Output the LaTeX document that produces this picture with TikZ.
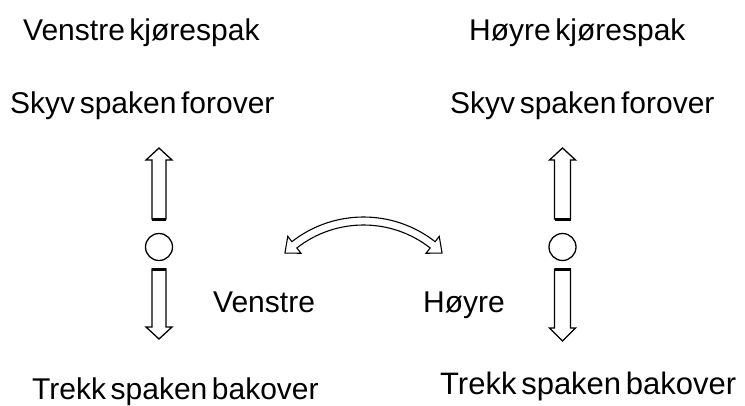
\documentclass[tikz,border=0pt]{standalone}
\usepackage{fontspec}
\setmainfont{Liberation Sans}[WordSpace=0.55]
\begin{document}
\begin{tikzpicture}[x=1pt,y=-1pt,
  lbl/.style={inner sep=0pt,anchor=base west,font=\fontsize{30}{36}\selectfont},
  blk/.style={draw=black,fill=white,line width=1.3pt,line join=miter},
  basebar/.style={line width=3pt}]
\useasboundingbox (0,0) rectangle (745,405);

% texts
\node[lbl] (tl) at (23,40) {Venstre kjørespak};
\node[lbl] (tr) at (469,40) {Høyre kjørespak};
\node[lbl] (fl) at (10,113) {Skyv spaken forover};
\node[lbl] (fr) at (450,113) {Skyv spaken forover};
\node[lbl] (ml) at (213,312) {Venstre};
\node[lbl] (mr) at (423,312) {Høyre};
\node[lbl] (bl) at (32,399) {Trekk spaken bakover};
\node[lbl,font=\fontsize{31}{36}\selectfont] (br) at (440,394) {Trekk spaken bakover};

% left lever
\def\cx{159}
\draw[blk] (\cx,148) -- (\cx+13,160) -- (\cx+7,160) -- (\cx+7,219) -- (\cx-7,219) -- (\cx-7,160) -- (\cx-13,160) -- cycle;
\draw[basebar] (\cx-7,219) -- (\cx+7,219);
\node[circle,draw,line width=1.3pt,minimum size=27pt,inner sep=0pt] (cl) at (\cx,247) {};
\draw[blk] (\cx,339) -- (\cx+13,327) -- (\cx+7,327) -- (\cx+7,269) -- (\cx-7,269) -- (\cx-7,327) -- (\cx-13,327) -- cycle;
\draw[basebar] (\cx-7,269) -- (\cx+7,269);

% right lever
\def\cx{562.5}
\draw[blk] (\cx,148) -- (\cx+13,160) -- (\cx+8,160) -- (\cx+8,219) -- (\cx-8,219) -- (\cx-8,160) -- (\cx-13,160) -- cycle;
\draw[basebar] (\cx-8,219) -- (\cx+8,219);
\node[circle,draw,line width=1.3pt,minimum size=27pt,inner sep=0pt] (cr) at (\cx,247) {};
\draw[blk] (\cx,341) -- (\cx+13,328) -- (\cx+8,328) -- (\cx+8,269) -- (\cx-8,269) -- (\cx-8,328) -- (\cx-13,328) -- cycle;
\draw[basebar] (\cx-8,269) -- (\cx+8,269);

% curved double-headed hollow arrow
\begin{scope}[shift={(363.5,333.3)}]
\draw[blk,line width=1.1pt]
  (-134.4:112.3) -- (-128:123) -- (-128:116.3)
  arc[start angle=-128,end angle=-52,radius=116.3]
  -- (-52:123) -- (-45.6:112.3) -- (-52:101.6) -- (-52:108.3)
  arc[start angle=-52,end angle=-128,radius=108.3]
  -- (-128:101.6) -- cycle;
\end{scope}
\end{tikzpicture}
\end{document}
